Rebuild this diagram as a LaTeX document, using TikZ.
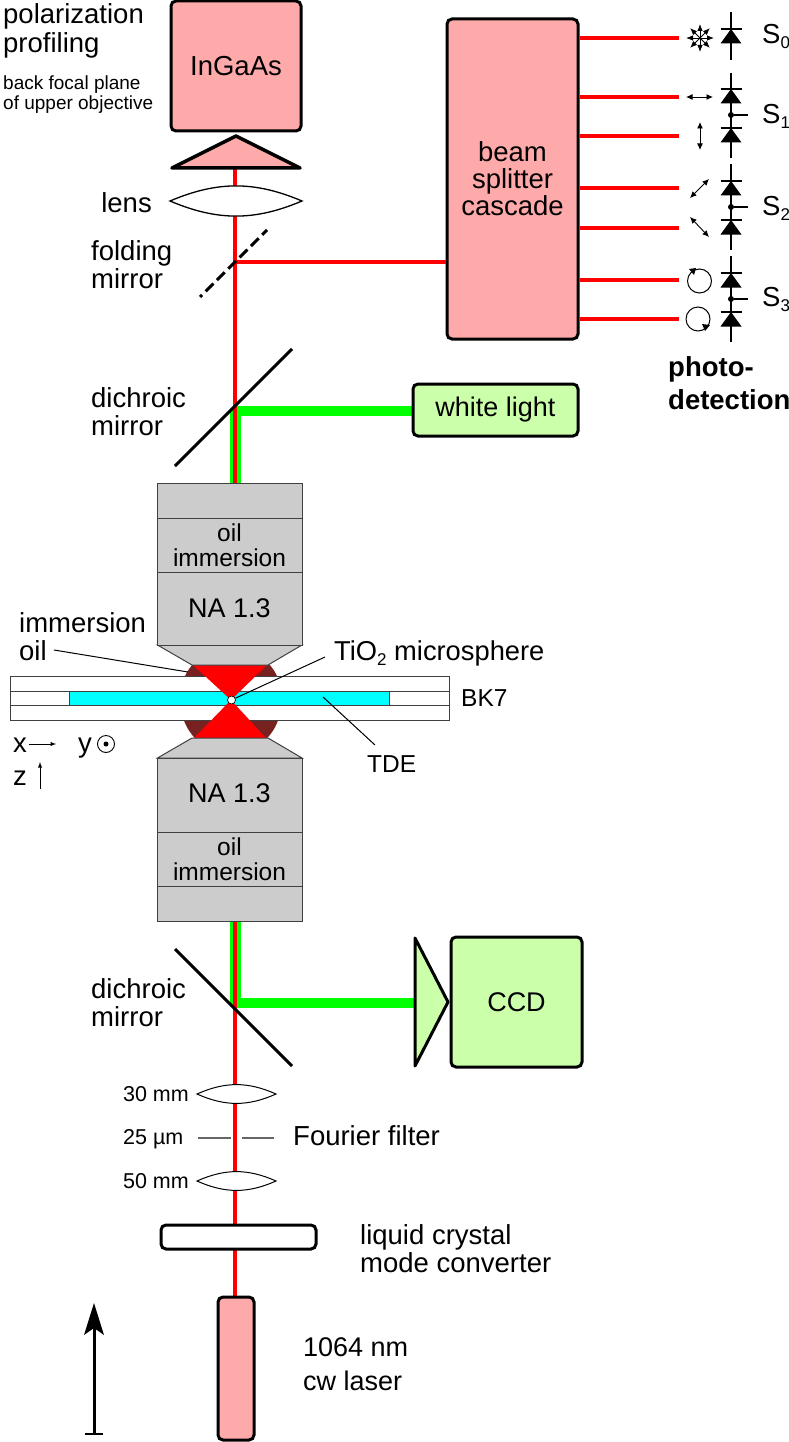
\documentclass[tikz,border=0pt]{standalone}
\usepackage{fontspec}
\setmainfont{Liberation Sans}
\usetikzlibrary{calc,arrows,arrows.meta}
\definecolor{pinkbox}{HTML}{FFAAAA}
\definecolor{greenbox}{HTML}{CCFFAA}
\definecolor{objgray}{HTML}{CCCCCC}
\definecolor{oilred}{HTML}{782121}
\definecolor{beamgreen}{HTML}{00FF00}
\definecolor{tdecyan}{HTML}{00FFFF}
\newcommand{\bigfont}{\fontsize{27.5}{28}\selectfont}
\newcommand{\midfont}{\fontsize{24.5}{24.5}\selectfont}
\newcommand{\smallfont}{\fontsize{21.5}{24}\selectfont}
\newcommand{\tinyfont}{\fontsize{19}{20}\selectfont}
\newcommand{\subs}[1]{\raisebox{-5pt}{\fontsize{17}{17}\selectfont #1}}
\tikzset{
  lbl/.style={font=\bigfont,inner sep=0pt,align=left},
  lblmid/.style={font=\midfont,inner sep=0pt,align=center},
  lblsmall/.style={font=\smallfont,inner sep=0pt},
  roundbox/.style={draw=black,line width=3pt,rounded corners=5pt,font=\bigfont,align=center,inner sep=0pt},
  objbox/.style={draw=black!75,line width=1pt,fill=objgray,minimum width=145pt,font=\midfont,align=center,inner sep=0pt},
  redbeam/.style={draw=red,line width=4pt},
  greenbeam/.style={draw=beamgreen,line join=bevel},
  lensline/.style={draw=black,fill=white,line width=1.3pt},
  mirror/.style={draw=black,line width=3pt},
  leader/.style={draw=black,line width=1pt},
  slide/.style={draw=black!75,line width=1pt},
  pol/.style={{Latex[length=6.5pt,width=6pt]}-{Latex[length=6.5pt,width=6pt]},line width=0.9pt},
  starray/.style={-{Latex[length=7pt,width=5.5pt]},line width=0.8pt},
  diode/.style={fill=black,draw=none},
  diodeline/.style={draw=black,line width=1.2pt},
  dotnode/.style={circle,fill=black,inner sep=0pt,minimum size=6pt}
}
\begin{document}
\begin{tikzpicture}[x=1pt,y=-1pt]
  \useasboundingbox (0,0) rectangle (789,1442);
  % beam path
  \coordinate (lasertop) at (235,1297);
  \coordinate (prismtop) at (235,168);
  \coordinate (foldpt) at (235,262);
  \draw[greenbeam,line width=10.5pt] (413,411) -- (235.5,411) -- (235.5,483);
  \draw[greenbeam,line width=10.5pt] (415,1003) -- (235.5,1003) -- (235.5,921);
  \draw[redbeam] (lasertop) -- (prismtop);

  % camera and prism
  \node[roundbox,fill=pinkbox,minimum width=130pt,minimum height=130pt](ingaas)at(236,66){InGaAs};
  \coordinate (prismL) at (172,168);
  \coordinate (prismR) at (300,168);
  \coordinate (prismT) at (236,136);
  \draw[fill=pinkbox,draw=black,line width=3.5pt,line join=round] (prismL) -- (prismT) -- (prismR) -- cycle;
  \coordinate (lensL) at (170,201);
  \coordinate (lensR) at (302,201);
  \draw[lensline] (lensL) to[bend left=23] (lensR) to[bend left=23] (lensL) -- cycle;
  \node[lbl,anchor=base east](lenslbl)at(152,212){lens};

  % folding mirror and cascade
  \node[roundbox,fill=pinkbox,minimum width=131pt,minimum height=320pt,font=\fontsize{27.5}{27}\selectfont](cascade)at(512.5,179){\raisebox{-1pt}{beam}\\\raisebox{-1pt}{splitter}\\\raisebox{-1pt}{cascade}};
  \coordinate (foldA) at (200,297);
  \coordinate (foldB) at (267,230);
  \draw[redbeam,line width=3.5pt] (foldpt) -- (cascade.west |- foldpt);
  \draw[mirror,dash pattern=on 11pt off 5pt,dash phase=8pt] (foldA) -- (foldB);
  \node[lbl,anchor=base west](foldlbl)at(91,288){folding\\mirror};

  % outgoing beams
  \foreach \yy in {38,97,136,188,228,280,319}
    \draw[redbeam,line width=3.5pt] (cascade.east |- 0,\yy) -- (679,\yy);

  % detectors
  \draw[diodeline] (731,12) -- (731,60);
  \draw[diodeline] (731,73) -- (731,158);
  \draw[diodeline] (731,164) -- (731,250);
  \draw[diodeline] (731,256) -- (731,342);
  \foreach \yy in {29,89,128,181,220,273,312}{
    \draw[diodeline] (720.5,\yy) -- (741.5,\yy);
    \fill[diode] (731,\yy) -- (741.5,\yy+14.5) -- (720.5,\yy+14.5) -- cycle;
  }
  \foreach \yy/\nm in {115/a,207/b,299/c}{
    \node[dotnode](dot\nm)at(731,\yy){};
    \draw[diodeline] (dot\nm) -- (748,\yy);
  }
  \node[lbl,anchor=base west](szero)at(762,44){S\subs{0}};
  \node[lbl,anchor=base west](sone)at(762,124){S\subs{1}};
  \node[lbl,anchor=base west](stwo)at(762,215){S\subs{2}};
  \node[lbl,anchor=base west](sthree)at(762,306){S\subs{3}};
  \node[lbl,anchor=base west,font=\fontsize{27.5}{33}\selectfont\bfseries](photolbl)at(668,409){photo-\\detection};

  % polarization marks
  \coordinate (star) at (700,38);
  \foreach \ang in {0,45,...,315}
    \draw[starray] (star) -- ++(\ang:14);
  \draw[pol] (686,97) -- (713,97);
  \draw[pol] (700,122) -- (700,150);
  \draw[pol] (690,198) -- (709,179);
  \draw[pol] (690,217) -- (709,237);
  \coordinate (circA) at (699.5,281);
  \coordinate (circB) at (698,319);
  \draw[line width=1pt] (circA) circle (12);
  \draw[line width=1pt] (circB) circle (12);
  \fill[black] (689,269) -- (694,275) -- (696,268) -- cycle;
  \fill[black] (710,325) -- (702,324) -- (705,331) -- cycle;

  % upper dichroic and white light
  \node[roundbox,fill=greenbox,minimum width=165pt,minimum height=52pt,font=\fontsize{27}{28}\selectfont](white)at(495.5,410){\raisebox{-1pt}{white light}};
  \coordinate (dichA) at (175,466);
  \coordinate (dichB) at (292,349);
  \draw[mirror] (dichA) -- (dichB);
  \node[lbl,anchor=base west](dichlbl)at(91,435){dichroic\\mirror};

  % oil, sample and focus
  \begin{scope}
    \clip (150,665) rectangle (310,676);
    \fill[oilred] (231,698) circle (51);
  \end{scope}
  \begin{scope}
    \clip (150,720) rectangle (310,738);
    \fill[oilred] (231,703.5) circle (50);
  \end{scope}
  \node[slide,fill=white,minimum width=439pt,minimum height=44pt](glass)at(229.5,698){};
  \draw[slide] (10,691) -- (449,691);
  \draw[slide] (10,705) -- (449,705);
  \node[slide,fill=tdecyan,minimum width=320pt,minimum height=14pt](tde)at(229.5,698){};
  \fill[red] (193,665) -- (267,665) -- (231,700) -- cycle;
  \fill[red] (194,738) -- (266,738) -- (231,700) -- cycle;
  \node[circle,draw=black,fill=white,line width=0.7pt,inner sep=0pt,minimum size=8pt](sphere)at(231.5,700){};

  % upper objective
  \draw[objbox] (157.5,645) -- (192,665) -- (268,665) -- (302,645) -- cycle;
  \node[objbox,minimum height=35pt](objA)at(229.5,500.5){};
  \node[objbox,minimum height=54pt](objB)at(229.5,545){oil\\immersion};
  \node[objbox,minimum height=73pt,font=\fontsize{27}{28}\selectfont](objC)at(229.5,608.5){NA 1.3};

  % lower objective
  \draw[objbox] (157.5,758) -- (192,738) -- (268,738) -- (302,758) -- cycle;
  \node[objbox,minimum height=74pt,font=\fontsize{27}{28}\selectfont](objD)at(229.5,795){\raisebox{3pt}{NA 1.3}};
  \node[objbox,minimum height=54pt](objE)at(229.5,859){oil\\immersion};
  \node[objbox,minimum height=35pt](objF)at(229.5,903.5){};

  % leaders and labels at the sample
  \node[lbl,anchor=base west](oillbl)at(19,660){immersion\\oil};
  \coordinate (oilend) at (188,672);
  \coordinate (oilstart) at (54,650);
  \draw[leader] (oilstart) -- (oilend);
  \node[lblmid,anchor=base west,font=\fontsize{27.3}{28}\selectfont](tiolbl)at(334,660){TiO\subs{2} microsphere};
  \coordinate (tiostart) at (325,657);
  \draw[leader] (tiostart) -- (sphere);
  \node[lblmid,anchor=base west](bklbl)at(461,706){BK7};
  \node[lblmid,anchor=base west](tdelbl)at(367,772){TDE};
  \coordinate (tdeA) at (323,697);
  \coordinate (tdeB) at (375,745);
  \draw[leader] (tdeA) -- (tdeB);

  % axes
  \node[lbl,anchor=base west](xlbl)at(13,752){x};
  \node[lbl,anchor=base west](ylbl)at(78,752){y};
  \node[lbl,anchor=base west](zlbl)at(13,785){z};
  \draw[-latex,line width=0.9pt] (xlbl.base east) ++(2,-8) -- ++(27,0);
  \node[circle,draw=black,line width=0.9pt,minimum size=17pt,inner sep=0pt](ydot)at(106,744){};
  \node[circle,fill=black,minimum size=5pt,inner sep=0pt](ydotc)at(106,744){};
  \draw[-latex,line width=0.9pt] (40,789) -- (40,762);

  % lower dichroic and CCD
  \coordinate (dichC) at (175,949);
  \coordinate (dichD) at (292,1066);
  \draw[mirror] (dichC) -- (dichD);
  \node[lbl,anchor=base west](dichlblb)at(91,1026){dichroic\\mirror};
  \draw[fill=greenbox,draw=black,line width=3pt,line join=round] (415,938) -- (448,1002) -- (415,1066) -- cycle;
  \node[roundbox,fill=greenbox,minimum width=131pt,minimum height=130pt,font=\fontsize{27}{28}\selectfont](ccd)at(516.5,1002){CCD};

  % filter lenses and pinhole
  \foreach \yy/\tx/\nm in {1094/30 mm/a,1181/50 mm/b}{
    \coordinate (flensL\nm) at (197,\yy);
    \coordinate (flensR\nm) at (276,\yy);
    \draw[lensline,line width=1pt] (flensL\nm) to[bend left=24] (flensR\nm) to[bend left=24] (flensL\nm) -- cycle;
    \node[lblsmall,anchor=east](flbl\nm)at(189,\yy){\tx};
  }
  \coordinate (pinA) at (198,1138);
  \coordinate (pinB) at (231,1138);
  \coordinate (pinC) at (242,1138);
  \coordinate (pinD) at (274,1138);
  \draw[draw=black!60,line width=1.2pt] (pinA) -- (pinB);
  \draw[draw=black!60,line width=1.2pt] (pinC) -- (pinD);
  \node[lblsmall,anchor=base west](pinlbl)at(123,1144){25 µm};
  \node[lbl,anchor=base west](fflbl)at(293,1145){Fourier filter};

  % mode converter and laser
  \node[roundbox,fill=white,minimum width=155pt,minimum height=24pt](lcmc)at(238.5,1237){};
  \node[lbl,anchor=base west](lclbl)at(360,1272){liquid crystal\\mode converter};
  \node[roundbox,fill=pinkbox,minimum width=36pt,minimum height=143pt](laser)at(236,1368.5){};
  \node[lbl,anchor=base west,font=\fontsize{27}{34}\selectfont](laserlbl)at(303,1390){1064 nm\\cw laser};

  % propagation arrow
  \coordinate (arrowtail) at (94,1434);
  \coordinate (arrowhead) at (94,1303);
  \draw[line width=3pt] (arrowtail) -- (94,1325);
  \draw[line width=1.6pt] (85,1434) -- (103,1434);
  \fill[black] (arrowhead) -- (104,1335) -- (94,1328) -- (84,1335) -- cycle;

  % top left labels
  \node[lbl,anchor=base west,font=\fontsize{27.5}{29}\selectfont](pollbl)at(3,53){polarization\\profiling};
  \node[anchor=base west,font=\tinyfont,inner sep=0pt,align=left](bfplbl)at(3,110){back focal plane\\of upper objective};
\end{tikzpicture}
\end{document}
